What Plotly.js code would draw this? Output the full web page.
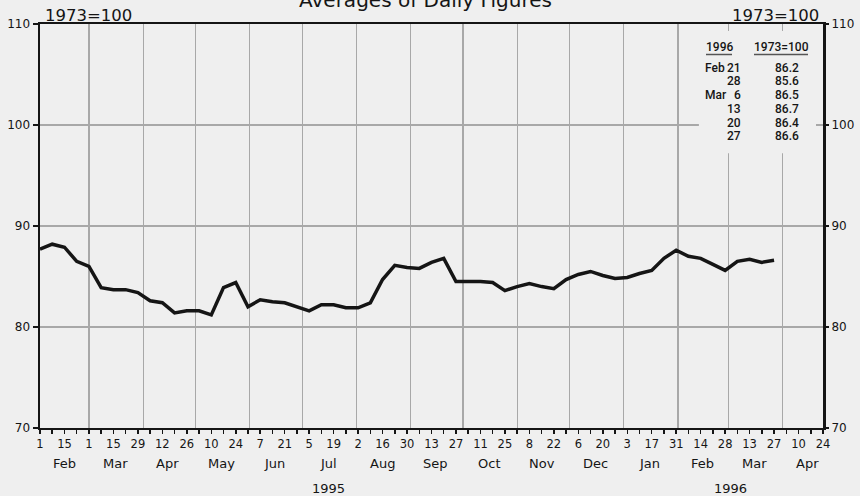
<!DOCTYPE html>
<html><head><meta charset="utf-8">
<script src="https://cdn.plot.ly/plotly-3.0.1.min.js"></script>
<style>html,body{margin:0;padding:0;background:#efefef;}</style>
</head><body><div id="chart" style="width:860px;height:496px;"></div>
<script>
// ---- data ----
const startDate = '1995-02-01';
const endDate = '1996-04-24';
const indexValues = [87.7, 88.2, 87.9, 86.5, 86.0, 83.9, 83.7, 83.7, 83.4, 82.6,
  82.4, 81.4, 81.6, 81.6, 81.2, 83.9, 84.4, 82.0, 82.7, 82.5,
  82.4, 82.0, 81.6, 82.2, 82.2, 81.9, 81.9, 82.4, 84.7, 86.1,
  85.9, 85.8, 86.4, 86.8, 84.5, 84.5, 84.5, 84.4, 83.6, 84.0,
  84.3, 84.0, 83.8, 84.7, 85.2, 85.5, 85.1, 84.8, 84.9, 85.3,
  85.6, 86.8, 87.6, 87.0, 86.8, 86.2, 85.6, 86.5, 86.7, 86.4, 86.6];
const dayLabels = ['1','15','1','15','29','12','26','10','24','7','21','5','19','2','16','30',
  '13','27','11','25','8','22','6','20','3','17','31','14','28','13','27','10','24'];
const monthLabels = ['Feb','Mar','Apr','May','Jun','Jul','Aug','Sep','Oct','Nov','Dec','Jan','Feb','Mar','Apr'];
const monthMids = ['1995-02-15','1995-03-16','1995-04-15','1995-05-16','1995-06-15','1995-07-16',
  '1995-08-16','1995-09-15','1995-10-16','1995-11-15','1995-12-16','1996-01-16','1996-02-15','1996-03-16','1996-04-15'];
const yearLabels = ['1995','1996'];
const yearPos = ['1995-07-16','1996-03-02'];
const tableMonths = ['Feb','','Mar','','',''];
const tableDays = ['21','28','6','13','20','27'];
const tableValues = ['86.2','85.6','86.5','86.7','86.4','86.6'];
const yTicks = [70, 80, 90, 100, 110];

// ---- helpers ----
const DAY = 86400000;
function addDays(s, n) {
  const d = new Date(s + 'T00:00:00Z');
  return new Date(d.getTime() + n * DAY).toISOString().slice(0, 10);
}
const L = 40, R = 37, T = 24, B = 68, W = 860, H = 496;
const PW = W - L - R, PH = H - T - B;
const px = x => (x - L) / PW;
const py = y => 1 - (y - T) / PH;

const dates = indexValues.map((_, i) => addDays(startDate, 7 * i));
const weekTicks = [], weekText = [];
for (let i = 0; ; i++) {
  const d = addDays(startDate, 7 * i);
  if (d > endDate) break;
  weekTicks.push(d);
  weekText.push(i % 2 === 0 ? dayLabels[i / 2] : '');
}

const bg = '#efefef';
const ink = '#151515';
const gridc = '#a8a8a8';
const font = 'DejaVu Sans, Noto Sans, sans-serif';
const narrow = 'Roboto, Liberation Sans Narrow, sans-serif';

const trace = {
  x: dates, y: indexValues, type: 'scatter', mode: 'lines',
  line: {color: ink, width: 3.5, shape: 'linear'}, hoverinfo: 'x+y', showlegend: false
};
// empty trace so the right-hand axis is drawn
const rightAxisTrace = {x: [], y: [], yaxis: 'y2', type: 'scatter', mode: 'lines', showlegend: false, hoverinfo: 'skip'};

const ann = [];
ann.push({text: 'Averages of Daily Figures', xref: 'paper', yref: 'paper', x: px(425.5), y: py(14),
  xanchor: 'center', yanchor: 'bottom', showarrow: false, font: {family: font, size: 20, color: ink}});
ann.push({text: '1973=100', xref: 'paper', yref: 'paper', x: px(43), y: py(27),
  xanchor: 'left', yanchor: 'bottom', showarrow: false, font: {family: font, size: 16.5, color: ink}});
ann.push({text: '1973=100', xref: 'paper', yref: 'paper', x: px(821), y: py(27),
  xanchor: 'right', yanchor: 'bottom', showarrow: false, font: {family: font, size: 16.5, color: ink}});
monthLabels.forEach((m, i) => ann.push({text: m, xref: 'x', yref: 'paper', x: monthMids[i], y: py(463),
  xanchor: 'center', yanchor: 'middle', showarrow: false, font: {family: font, size: 13, color: ink}}));
yearLabels.forEach((t, i) => ann.push({text: t, xref: 'x', yref: 'paper', x: yearPos[i], y: py(489),
  xanchor: 'center', yanchor: 'middle', showarrow: false, font: {family: font, size: 13, color: ink}}));
// table
const tf = {family: narrow, size: 12, color: ink, weight: 500};
ann.push({text: '1996', xref: 'paper', yref: 'paper', x: px(719.5), y: py(46.5), xanchor: 'center', yanchor: 'middle',
  showarrow: false, font: tf});
ann.push({text: '1973=100', xref: 'paper', yref: 'paper', x: px(781), y: py(46.5), xanchor: 'center', yanchor: 'middle',
  showarrow: false, font: tf});
tableDays.forEach((d, i) => {
  const yy = py(67.5 + i * 13.75);
  if (tableMonths[i]) ann.push({text: tableMonths[i], xref: 'paper', yref: 'paper', x: px(703), y: yy,
    xanchor: 'left', yanchor: 'middle', showarrow: false, font: tf});
  ann.push({text: d, xref: 'paper', yref: 'paper', x: px(743), y: yy,
    xanchor: 'right', yanchor: 'middle', showarrow: false, font: tf});
  ann.push({text: tableValues[i], xref: 'paper', yref: 'paper', x: px(786.5), y: yy,
    xanchor: 'center', yanchor: 'middle', showarrow: false, font: tf});
});

const shapes = [
  {type: 'rect', xref: 'x', yref: 'y', x0: '1996-02-13', x1: '1996-04-20', y0: 97.2, y1: 109.3,
    fillcolor: bg, line: {width: 0}, layer: 'between'},
  {type: 'line', xref: 'paper', yref: 'paper', x0: px(706), x1: px(732), y0: py(54.5), y1: py(54.5),
    line: {color: '#555', width: 1.5}},
  {type: 'line', xref: 'paper', yref: 'paper', x0: px(754), x1: px(808), y0: py(54.5), y1: py(54.5),
    line: {color: '#555', width: 1.5}}
];

const layout = {
  width: W, height: H,
  margin: {l: L, r: R, t: T, b: B, pad: 0},
  paper_bgcolor: bg, plot_bgcolor: bg,
  showlegend: false,
  xaxis: {
    type: 'date', range: [startDate, endDate], fixedrange: true,
    tickmode: 'array', tickvals: weekTicks, ticktext: weekText,
    ticks: 'outside', ticklen: 4, tickwidth: 1.5, tickcolor: ink,
    tickfont: {family: font, size: 11.5, color: ink},
    showgrid: false, zeroline: false,
    showline: true, linewidth: 2, linecolor: ink, mirror: true,
    minor: {tickmode: 'linear', tick0: startDate, dtick: 'M1', showgrid: true,
      gridcolor: gridc, gridwidth: 1.2, ticks: ''}
  },
  yaxis: {
    range: [70, 110], tickmode: 'array', tickvals: yTicks, fixedrange: true,
    ticks: 'outside', ticklen: 5, tickwidth: 1.5, tickcolor: ink,
    tickfont: {family: font, size: 12, color: ink},
    showgrid: true, gridcolor: gridc, gridwidth: 1.2, zeroline: false,
    showline: true, linewidth: 2.5, linecolor: ink, mirror: true
  },
  yaxis2: {
    overlaying: 'y', side: 'right', anchor: 'x', range: [70, 110], tickmode: 'array', tickvals: yTicks, fixedrange: true,
    ticks: 'outside', ticklen: 5, tickwidth: 1.5, tickcolor: ink,
    tickfont: {family: font, size: 12, color: ink},
    showgrid: false, zeroline: false, showline: false
  },
  annotations: ann,
  shapes: shapes
};

Plotly.newPlot('chart', [trace, rightAxisTrace], layout, {displayModeBar: false, staticPlot: true});
</script>
</body></html>
